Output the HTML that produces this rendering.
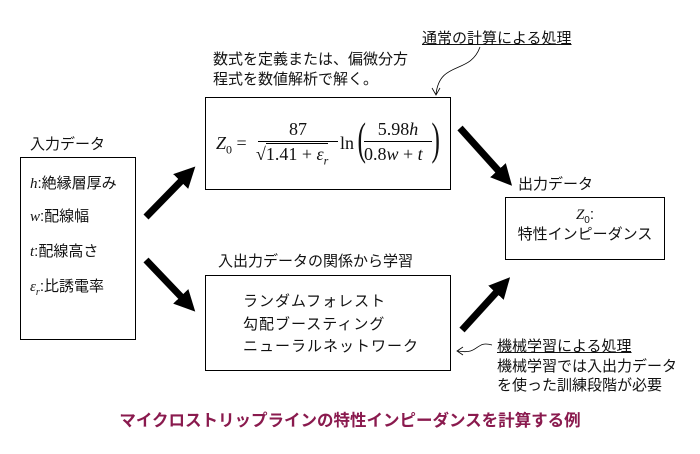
<!DOCTYPE html>
<html><head><meta charset="utf-8"><style>
body{margin:0;width:700px;height:454px;background:#fff;position:relative;overflow:hidden;font-family:"Liberation Sans","Noto Sans CJK JP",sans-serif;color:#111;font-size:15px}
.t{position:absolute;white-space:nowrap;line-height:1}
.box{position:absolute;border:1.5px solid #000;box-sizing:border-box}
i{font-family:"Liberation Serif",serif}
</style></head><body>
<div class="box" style="left:20px;top:157px;width:116px;height:183px"></div>
<div class="box" style="left:205px;top:97px;width:246px;height:93px"></div>
<div class="box" style="left:205px;top:275px;width:246px;height:96px"></div>
<div class="box" style="left:505px;top:197px;width:160px;height:63px"></div>

<div class="t" style="left:30px;top:137px">入力データ</div>
<div class="t" style="left:30px;top:176px"><i>h</i>:絶縁層厚み</div>
<div class="t" style="left:30px;top:209px"><i>w</i>:配線幅</div>
<div class="t" style="left:30px;top:244px"><i>t</i>:配線高さ</div>
<div class="t" style="left:30px;top:279px"><i>ε<sub style="font-size:10px">r</sub></i>:比誘電率</div>

<div class="t" style="left:213px;top:52px">数式を定義または、偏微分方</div>
<div class="t" style="left:213px;top:72px">程式を数値解析で解く。</div>
<div class="t" style="left:422px;top:31px;text-decoration:underline">通常の計算による処理</div>

<div class="t" style="left:216px;top:120px;font-family:'Liberation Serif',serif;font-size:18px">
<span style="position:absolute;left:0;top:14px"><i>Z</i><sub style="font-size:12px">0</sub> =</span>
<span style="position:absolute;left:42px;top:0;width:80px;text-align:center">87</span>
<span style="position:absolute;left:42px;top:21px;width:80px;border-top:1px solid #000"></span>
<span style="position:absolute;left:40px;top:25px">√<span style="border-top:1px solid #000">1.41 + <i>ε<sub style="font-size:12px">r</sub></i></span></span>
<span style="position:absolute;left:124px;top:14px">ln</span>
<span style="position:absolute;left:138px;top:-4px;font-size:46px;transform:scaleX(.55)">(</span>
<span style="position:absolute;left:148px;top:0;width:68px;text-align:center">5.98<i>h</i></span>
<span style="position:absolute;left:148px;top:21px;width:68px;border-top:1px solid #000"></span>
<span style="position:absolute;left:148px;top:25px">0.8<i>w</i> + <i>t</i></span>
<span style="position:absolute;left:212px;top:-4px;font-size:46px;transform:scaleX(.55)">)</span>
</div>

<div class="t" style="left:518px;top:177px">出力データ</div>
<div class="t" style="left:505px;top:207px;width:160px;text-align:center"><i>Z</i><sub style="font-size:10px">0</sub>:</div>
<div class="t" style="left:505px;top:227px;width:160px;text-align:center">特性インピーダンス</div>

<div class="t" style="left:218px;top:254px">入出力データの関係から学習</div>
<div class="t" style="left:243px;top:294px;letter-spacing:1px">ランダムフォレスト</div>
<div class="t" style="left:243px;top:317px;letter-spacing:1px">勾配ブースティング</div>
<div class="t" style="left:243px;top:339px;letter-spacing:1px">ニューラルネットワーク</div>

<div class="t" style="left:497px;top:339px;text-decoration:underline">機械学習による処理</div>
<div class="t" style="left:497px;top:359px">機械学習では入出力データ</div>
<div class="t" style="left:497px;top:378px">を使った訓練段階が必要</div>

<div class="t" style="left:0;top:413px;width:700px;text-align:center;color:#8a1a4e;font-weight:bold;font-size:16.5px">マイクロストリップラインの特性インピーダンスを計算する例</div>

<svg width="700" height="454" style="position:absolute;left:0;top:0">
<defs><marker id="a" markerWidth="3" markerHeight="3" refX="1.5" refY="1.5" orient="auto"><path d="M0,0L3,1.5L0,3z" fill="#000"/></marker></defs>
<g stroke="#000" stroke-width="7" marker-end="url(#a)">
<line x1="146" y1="217" x2="188" y2="174"/>
<line x1="146" y1="260" x2="188" y2="304"/>
<line x1="460" y1="128" x2="505" y2="178"/>
<line x1="462" y1="330" x2="503" y2="285"/>
</g>
<g fill="none" stroke="#000" stroke-width="0.8">
<path d="M480,47 C470,75 440,60 436,94"/><path d="M432,88 L436,95 L440,88"/>
<path d="M492,345 C475,340 480,355 458,351"/><path d="M463,347 L457,351 L463,355"/>
</g>
</svg>
</body></html>
